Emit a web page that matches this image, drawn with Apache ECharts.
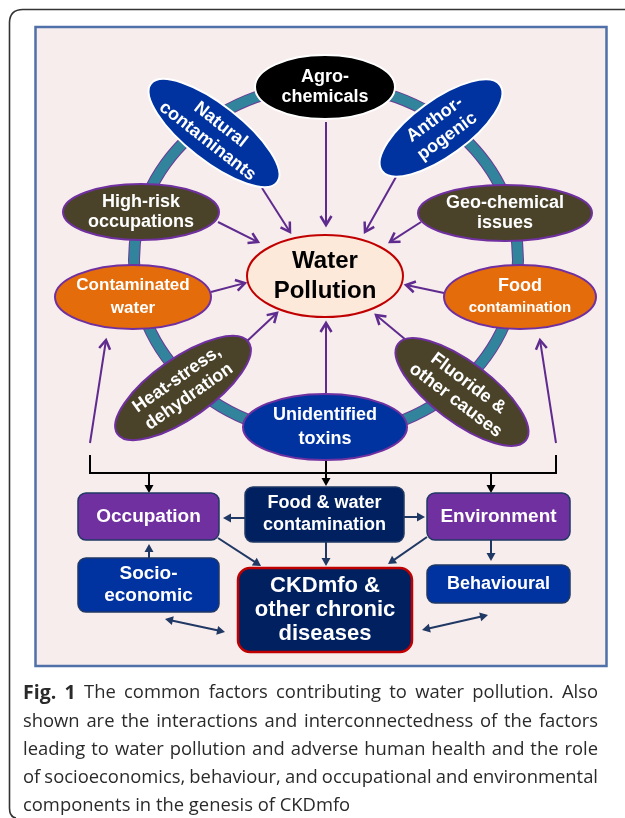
<!DOCTYPE html>
<html><head><meta charset="utf-8">
<script src="https://cdn.jsdelivr.net/npm/echarts@6/dist/echarts.min.js"></script>
<style>html,body{margin:0;padding:0;background:#fff}#c{width:625px;height:818px}</style>
</head><body><div id="c"></div>
<script>
// ---- content (text) ----
const hubLabel = 'Water\nPollution';
const factorLabels = ['Agro-\nchemicals','Natural\ncontaminants','Anthor-\npogenic','High-risk\noccupations','Geo-chemical\nissues','Contaminated\nwater','Food\ncontamination','Heat-stress,\ndehydration','Fluoride &\nother causes','Unidentified\ntoxins'];
const boxLabels = ['Occupation','Food & water\ncontamination','Environment','Socio-\neconomic','CKDmfo &\nother chronic\ndiseases','Behavioural'];
const captionLead = 'Fig. 1';
const captionLines = ['The common factors contributing to water pollution. Also','shown are the interactions and interconnectedness of the factors','leading to water pollution and adverse human health and the role','of socioeconomics, behaviour, and occupational and environmental','components in the genesis of CKDmfo'];

// ---- layout (positions / sizes / styles, in page units) ----
const BLUE='#0033a0', OLIVE='#4a4229', ORANGE='#e46c0a', PURPLE='#7030a0', NAVY='#002060';
const factorLayout = [
 {cx:325,cy:87,rx:70,ry:32,rot:0,fill:'#000',stroke:'#fff',fs:[18,18],lh:20},
 {cx:214,cy:133,rx:80,ry:28,rot:38,fill:BLUE,stroke:'#fff',fs:[18,18],lh:21},
 {cx:441,cy:128,rx:73,ry:28,rot:-36,fill:BLUE,stroke:'#fff',fs:[18,18],lh:21},
 {cx:141,cy:212,rx:78,ry:28,rot:0,fill:OLIVE,stroke:PURPLE,fs:[18,18],lh:20},
 {cx:505,cy:213,rx:87,ry:28,rot:0,fill:OLIVE,stroke:PURPLE,fs:[18,18],lh:20},
 {cx:133,cy:297,rx:78,ry:32,rot:0,fill:ORANGE,stroke:PURPLE,fs:[17,17],lh:23},
 {cx:520,cy:297,rx:76,ry:32,rot:0,fill:ORANGE,stroke:PURPLE,fs:[18,15],lh:22},
 {cx:183,cy:388,rx:80,ry:30,rot:-35,fill:OLIVE,stroke:PURPLE,fs:[18,18],lh:21},
 {cx:462,cy:392,rx:80,ry:30,rot:37,fill:OLIVE,stroke:PURPLE,fs:[18,18],lh:21},
 {cx:325,cy:427,rx:82,ry:33,rot:0,fill:BLUE,stroke:PURPLE,fs:[18,18],lh:24}
];
const hubLayout = {cx:325,cy:276,rx:78,ry:41,rot:0,fill:'#fde9d9',stroke:'#c00000',fs:[24,24],lh:30,color:'#000'};
const boxLayout = [
 {x:78,y:493,w:141,h:47,fill:PURPLE,stroke:'#1f3864',lw:1.5,r:8,fs:19,lh:22},
 {x:245,y:487,w:159,h:55,fill:NAVY,stroke:'#1f3864',lw:1.5,r:8,fs:18,lh:22},
 {x:427,y:493,w:143,h:47,fill:PURPLE,stroke:'#1f3864',lw:1.5,r:8,fs:19,lh:22},
 {x:78,y:558,w:141,h:54,fill:BLUE,stroke:'#1f3864',lw:1.5,r:8,fs:19,lh:22},
 {x:238,y:568,w:174,h:84,fill:NAVY,stroke:'#c00000',lw:2.5,r:12,fs:22,lh:24},
 {x:427,y:565,w:143,h:38,fill:BLUE,stroke:'#1f3864',lw:1.5,r:8,fs:18,lh:22}
];
const ARROWP='#5f2b8e', ARROWN='#1f3864';
const arrowLayout = [
 [326,122,326,225,ARROWP,0,'v'],[262,188,290,232,ARROWP,0,'v'],[396,177,365,232,ARROWP,0,'v'],
 [218,222,258,242,ARROWP,0,'v'],[421,222,390,242,ARROWP,0,'v'],[211,292,245,283,ARROWP,0,'v'],
 [444,293,406,285,ARROWP,0,'v'],[245,343,277,313,ARROWP,0,'v'],[406,340,376,315,ARROWP,0,'v'],
 [326,393,326,323,ARROWP,0,'v'],[90,443,106,340,ARROWP,0,'v'],[556,443,540,340,ARROWP,0,'v'],
 [149,473,149,493,'#000',0,'t'],[326,458,326,486,'#000',0,'t'],[491,473,491,493,'#000',0,'t'],
 [245,518,223,518,ARROWN,0,'t'],[404,517,425,517,ARROWN,0,'t'],[326,542,326,566,ARROWN,0,'t'],
 [218,538,261,566,ARROWN,0,'t'],[427,537,388,564,ARROWN,0,'t'],[149,558,149,544,ARROWN,0,'t'],
 [491,540,491,561,ARROWN,0,'t'],[165,619,225,632,ARROWN,1,'t'],[422,630,488,615,ARROWN,1,'t']
];
const FONT='"Liberation Sans", Arial, sans-serif';
const CAP_FONT='"Open Sans", sans-serif', CAP_SIZE=18.4, CAP_LEAD_SIZE=19.5, CAP_X=23, CAP_RIGHT=598, CAP_Y=693, CAP_LH=28.3, CAP_COLOR='#2a2a2a';

function ellPath(cx,cy,rx,ry){
  return 'M'+(cx-rx)+' '+cy+' A'+rx+' '+ry+' 0 1 0 '+(cx+rx)+' '+cy+' A'+rx+' '+ry+' 0 1 0 '+(cx-rx)+' '+cy+' Z';
}
function ellipseGroup(api, L, label){
  const p = api.coord([L.cx, L.cy]);
  const s = api.size([L.rx, L.ry]);
  const rx=Math.abs(s[0]), ry=Math.abs(s[1]);
  const lines = label.split('\n');
  const children = [{type:'path', shape:{pathData:ellPath(0,0,rx,ry)}, style:{fill:L.fill, stroke:L.stroke, lineWidth:2}}];
  lines.forEach((t,k)=>{
    children.push({type:'text', style:{text:t, x:0, y:(k-(lines.length-1)/2)*L.lh, align:'center', verticalAlign:'middle',
      fill:L.color||'#fff', font:'bold '+(L.fs[k]||L.fs[0])+'px '+FONT}});
  });
  return {type:'group', x:p[0], y:p[1], rotation:-L.rot*Math.PI/180, children};
}

const chart = echarts.init(document.getElementById('c'), null, {renderer:'canvas'});
const frameFn = function(params, api){
  const a=api.coord([0,0]);
  return {type:'group', children:[
    {type:'path', shape:{pathData:'M625 9.5 L23 9.5 Q9.5 9.5 9.5 23 L9.5 808 Q9.5 817 16 818'}, style:{stroke:'#333', lineWidth:1.6, fill:'none'}},
    {type:'rect', shape:{x:35.5+a[0],y:27+a[1],width:571,height:639}, style:{fill:'#f8eded', stroke:'#4f70a8', lineWidth:2.5}}
  ]};
};
const ringFn = function(params, api){
  const p = api.coord([326,260]); const s = api.size([192,175]);
  const d = ellPath(p[0],p[1],Math.abs(s[0]),Math.abs(s[1]));
  return {type:'group', children:[
    {type:'path', shape:{pathData:d}, style:{fill:'none', stroke:'#6a3a95', lineWidth:12}},
    {type:'path', shape:{pathData:d}, style:{fill:'none', stroke:'#31849b', lineWidth:10}}
  ]};
};
const arrowFn = function(params, api){
  const A = arrowLayout[api.value(0)];
  const a = api.coord([A[0],A[1]]), b = api.coord([A[2],A[3]]);
  const col=A[4];
  const heads=[];
  function head(from,to){
    const dx=to[0]-from[0], dy=to[1]-from[1], L=Math.hypot(dx,dy), ux=dx/L, uy=dy/L;
    const len=A[6]==='v'?9:8, hw=A[6]==='v'?5.5:4.5;
    const bx=to[0]-ux*len, by=to[1]-uy*len;
    if(A[6]==='v'){
      heads.push({type:'polyline', shape:{points:[[bx-uy*hw,by+ux*hw],[to[0],to[1]],[bx+uy*hw,by-ux*hw]]}, style:{stroke:col, fill:'none', lineWidth:2.5, lineJoin:'miter'}});
    } else {
      heads.push({type:'polygon', shape:{points:[[bx-uy*hw,by+ux*hw],[to[0],to[1]],[bx+uy*hw,by-ux*hw]]}, style:{fill:col}});
    }
    return [to[0]-ux*(A[6]==='v'?1.5:len*0.7), to[1]-uy*(A[6]==='v'?1.5:len*0.7)];
  }
  let e = head(a,b); let s=a;
  if(A[5]) s = head(b,a);
  return {type:'group', children:[{type:'line', shape:{x1:s[0],y1:s[1],x2:e[0],y2:e[1]}, style:{stroke:col, lineWidth:2}}].concat(heads)};
};
const bracketFn = function(params, api){
  const pts=[[90,455],[90,473],[556,473],[556,455]].map(q=>api.coord(q));
  return {type:'polyline', shape:{points:pts}, style:{stroke:'#000', lineWidth:2, fill:'none'}};
};
const factorFn = function(params, api){ const i=api.value(0); return ellipseGroup(api, factorLayout[i], factorLabels[i]); };
const hubFn = function(params, api){ return ellipseGroup(api, hubLayout, hubLabel); };
const boxFn = function(params, api){
  const i=api.value(0), B=boxLayout[i];
  const p=api.coord([B.x,B.y]), s=api.size([B.w,B.h]);
  const w=Math.abs(s[0]), h=Math.abs(s[1]);
  const lines=boxLabels[i].split('\n');
  const ch=[{type:'rect', shape:{x:p[0],y:p[1],width:w,height:h,r:B.r}, style:{fill:B.fill, stroke:B.stroke, lineWidth:B.lw}}];
  lines.forEach((t,k)=>ch.push({type:'text', style:{text:t, x:p[0]+w/2, y:p[1]+h/2+(k-(lines.length-1)/2)*B.lh, align:'center', verticalAlign:'middle', fill:'#fff', font:'bold '+B.fs+'px '+FONT}}));
  return {type:'group', children:ch};
};

// ---- justified caption (word by word) ----
const mctx = document.createElement('canvas').getContext('2d');
function fontOf(bold){ return bold ? 'bold '+CAP_LEAD_SIZE+'px '+CAP_FONT : CAP_SIZE+'px '+CAP_FONT; }
function mw(t,bold){ mctx.font=fontOf(bold); return mctx.measureText(t).width; }
const graphics = [];
captionLines.forEach((line,k)=>{
  let words = line.split(' ').map(w=>({t:w,b:false}));
  if(k===0) words = captionLead.split(' ').map(w=>({t:w,b:true})).concat(words);
  const sp = mw(' ',false);
  const total = words.reduce((s,w)=>s+mw(w.t,w.b),0);
  const last = k===captionLines.length-1;
  const gap = last ? sp : (CAP_RIGHT-CAP_X-total)/(words.length-1);
  let x = CAP_X;
  words.forEach(w=>{
    graphics.push({type:'text', x:x, y:CAP_Y+k*CAP_LH, style:{text:w.t, fill:CAP_COLOR, font:fontOf(w.b), verticalAlign:'middle'}});
    x += mw(w.t,w.b)+gap;
  });
});

const idx = n => Array.from({length:n},(_, i)=>[i]);
chart.setOption({
  animation:false,
  grid:{left:0,right:0,top:0,bottom:0},
  xAxis:{type:'value',min:0,max:625,show:false},
  yAxis:{type:'value',min:0,max:818,inverse:true,show:false},
  graphic:graphics,
  series:[
    {type:'custom', renderItem:frameFn, data:[[0]], silent:true, z:0, clip:false},
    {type:'custom', renderItem:ringFn, data:[[0]], silent:true, z:1},
    {type:'custom', renderItem:bracketFn, data:[[0]], silent:true, z:2},
    {type:'custom', renderItem:arrowFn, data:idx(arrowLayout.length), silent:true, z:2},
    {type:'custom', renderItem:factorFn, data:idx(factorLabels.length), silent:true, z:3},
    {type:'custom', renderItem:hubFn, data:[[0]], silent:true, z:3},
    {type:'custom', renderItem:boxFn, data:idx(boxLabels.length), silent:true, z:3}
  ]
});
</script></body></html>
